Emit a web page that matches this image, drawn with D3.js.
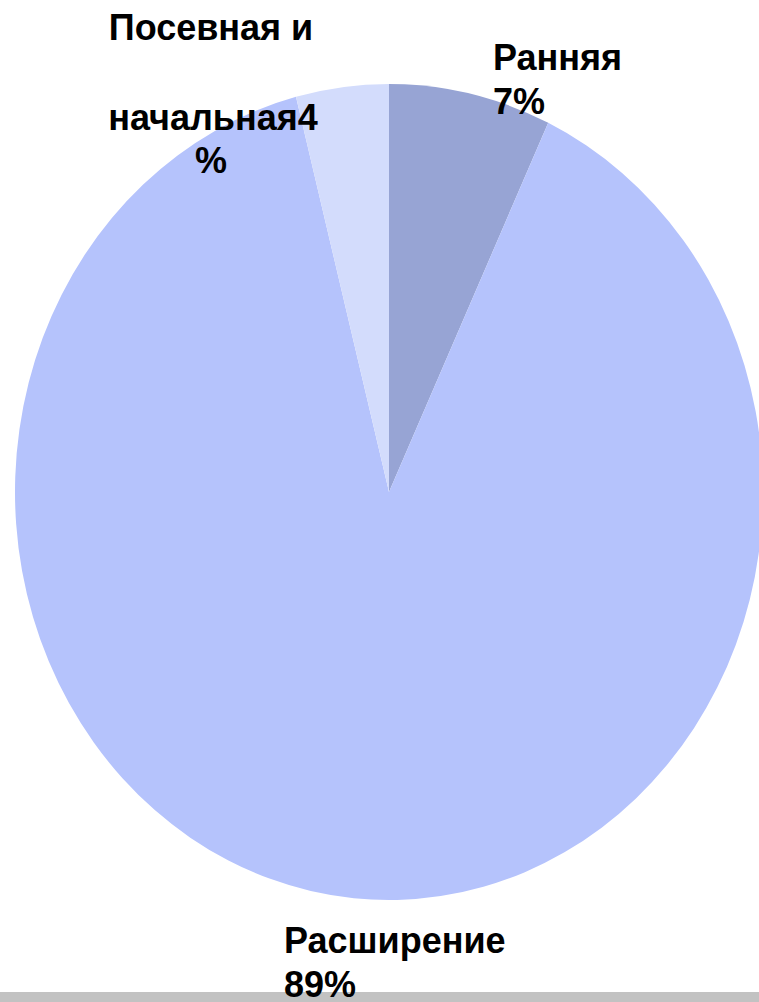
<!DOCTYPE html>
<html>
<head>
<meta charset="utf-8">
<script src="https://cdn.jsdelivr.net/npm/d3@7"></script>
<style>
  body { margin: 0; background: #fff; }
  .lbl { font-family: "Liberation Sans", Arial, sans-serif; font-weight: bold; font-size: 36px; fill: #000; }
</style>
</head>
<body>
<div id="pie"></div>
<script>
const FRAME_WIDTH = 759;
const FRAME_HEIGHT = 1002;

// data
const CATEGORIES = ["Ранняя", "Расширение", "Посевная и начальная"];
const VALUES = [7, 89, 4];
const COLORS = ["#97a4d4", "#b5c3fc", "#d3dcfc"];

// pie is slightly stretched vertically in the source
const CX = 389, CY = 492, RX = 374, RY = 408;

const FRAME = d3.select("#pie")
                .append("svg")
                  .attr("width", FRAME_WIDTH)
                  .attr("height", FRAME_HEIGHT);

const pie = d3.pie().sort(null).value((d) => d.value);
const arc = d3.arc().innerRadius(0).outerRadius(RY);

const data = CATEGORIES.map((c, i) => ({name: c, value: VALUES[i], color: COLORS[i]}));

FRAME.append("g")
     .attr("transform", "translate(" + CX + "," + CY + ") scale(" + (RX / RY) + ",1)")
     .selectAll("path")
     .data(pie(data))
     .enter()
     .append("path")
       .attr("d", arc)
       .attr("fill", (d) => d.data.color);

// grey strip along the bottom
FRAME.append("rect")
     .attr("x", 0).attr("y", 992)
     .attr("width", FRAME_WIDTH).attr("height", 10)
     .attr("fill", "#c2c2c2");

// labels (lines as in the original slide)
const LABELS = [
  {lines: [["Ранняя", 493, 70], [VALUES[0] + "%", 493, 114]], anchor: "start"},
  {lines: [["Расширение", 284, 953], [VALUES[1] + "%", 284, 997]], anchor: "start"},
  {lines: [["Посевная и", 211, 40], ["начальная" + VALUES[2], 213, 130], ["%", 211, 173]], anchor: "middle"}
];

LABELS.forEach((l) => {
  l.lines.forEach((t) => {
    FRAME.append("text")
         .attr("class", "lbl")
         .attr("x", t[1])
         .attr("y", t[2])
         .attr("text-anchor", l.anchor)
         .text(t[0]);
  });
});
</script>
</body>
</html>
